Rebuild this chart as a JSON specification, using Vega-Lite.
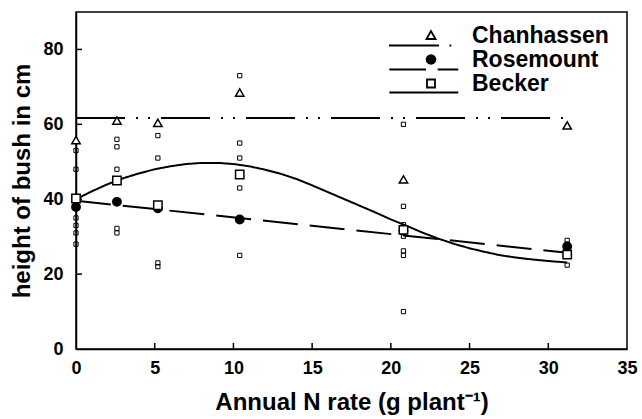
{
  "$schema": "https://vega.github.io/schema/vega-lite/v6.json",
  "width": 551,
  "height": 337,
  "padding": {"left": 10, "top": 12, "right": 2, "bottom": 2},
  "background": "white",
  "config": {
    "view": {"stroke": "black", "strokeWidth": 1.5},
    "font": "Liberation Sans",
    "axis": {
      "domainColor": "black", "domainWidth": 1.5,
      "labelFont": "Liberation Sans", "labelFontWeight": "bold", "labelFontSize": 18, "labelColor": "black",
      "labelFlush": false, "labelOverlap": false,
      "titleFont": "Liberation Sans", "titleFontWeight": "bold", "titleColor": "black", "titleFontSize": 24,
      "grid": false
    },
    "legend": {"rowPadding": 0, "padding": 0}
  },
  "datasets": {
    "fits": [
      {"site": "Chanhassen", "x": 0, "y": 61.7},
      {"site": "Chanhassen", "x": 31.2, "y": 61.7},
      {"site": "Rosemount", "x": 0, "y": 39.6},
      {"site": "Rosemount", "x": 31.2, "y": 25.7},
      {"site": "Becker", "x": 0, "y": 40.0},
      {"site": "Becker", "x": 1, "y": 42.1},
      {"site": "Becker", "x": 2, "y": 44.0},
      {"site": "Becker", "x": 3, "y": 45.6},
      {"site": "Becker", "x": 4, "y": 46.9},
      {"site": "Becker", "x": 5, "y": 48.0},
      {"site": "Becker", "x": 6, "y": 48.8},
      {"site": "Becker", "x": 7, "y": 49.4},
      {"site": "Becker", "x": 8, "y": 49.7},
      {"site": "Becker", "x": 9, "y": 49.7},
      {"site": "Becker", "x": 10, "y": 49.4},
      {"site": "Becker", "x": 11, "y": 48.8},
      {"site": "Becker", "x": 12, "y": 47.9},
      {"site": "Becker", "x": 13, "y": 46.8},
      {"site": "Becker", "x": 14, "y": 45.4},
      {"site": "Becker", "x": 15, "y": 43.7},
      {"site": "Becker", "x": 16, "y": 41.9},
      {"site": "Becker", "x": 17, "y": 40.1},
      {"site": "Becker", "x": 18, "y": 38.3},
      {"site": "Becker", "x": 19, "y": 36.5},
      {"site": "Becker", "x": 20, "y": 34.6},
      {"site": "Becker", "x": 21, "y": 32.9},
      {"site": "Becker", "x": 22, "y": 31.1},
      {"site": "Becker", "x": 23, "y": 29.5},
      {"site": "Becker", "x": 24, "y": 28.1},
      {"site": "Becker", "x": 25, "y": 26.9},
      {"site": "Becker", "x": 26, "y": 25.9},
      {"site": "Becker", "x": 27, "y": 25.0},
      {"site": "Becker", "x": 28, "y": 24.4},
      {"site": "Becker", "x": 29, "y": 23.9},
      {"site": "Becker", "x": 30, "y": 23.5},
      {"site": "Becker", "x": 31.2, "y": 23.1}
    ],
    "obs": [
      {"x": 0, "y": 53}, {"x": 0, "y": 48}, {"x": 0, "y": 35}, {"x": 0, "y": 33}, {"x": 0, "y": 31}, {"x": 0, "y": 28},
      {"x": 2.6, "y": 56}, {"x": 2.6, "y": 54}, {"x": 2.6, "y": 48}, {"x": 2.6, "y": 32.2}, {"x": 2.6, "y": 31},
      {"x": 5.2, "y": 57}, {"x": 5.2, "y": 51}, {"x": 5.2, "y": 23}, {"x": 5.2, "y": 22},
      {"x": 10.4, "y": 73}, {"x": 10.4, "y": 55}, {"x": 10.4, "y": 51}, {"x": 10.4, "y": 43}, {"x": 10.4, "y": 25},
      {"x": 20.8, "y": 60}, {"x": 20.8, "y": 38.1}, {"x": 20.8, "y": 33.2}, {"x": 20.8, "y": 30.1}, {"x": 20.8, "y": 26.2}, {"x": 20.8, "y": 25}, {"x": 20.8, "y": 10},
      {"x": 31.2, "y": 29}, {"x": 31.2, "y": 28}, {"x": 31.2, "y": 22.4}
    ],
    "means": [
      {"site": "Chanhassen", "x": 0, "y": 55.8},
      {"site": "Chanhassen", "x": 2.6, "y": 61},
      {"site": "Chanhassen", "x": 5.2, "y": 60.4},
      {"site": "Chanhassen", "x": 10.4, "y": 68.5},
      {"site": "Chanhassen", "x": 20.8, "y": 45.3},
      {"site": "Chanhassen", "x": 31.2, "y": 59.7},
      {"site": "Rosemount", "x": 0, "y": 37.9},
      {"site": "Rosemount", "x": 2.6, "y": 39.3},
      {"site": "Rosemount", "x": 5.2, "y": 37.6},
      {"site": "Rosemount", "x": 10.4, "y": 34.6},
      {"site": "Rosemount", "x": 20.8, "y": 31.6},
      {"site": "Rosemount", "x": 31.2, "y": 27.4},
      {"site": "Becker", "x": 0, "y": 40.2},
      {"site": "Becker", "x": 2.6, "y": 45},
      {"site": "Becker", "x": 5.2, "y": 38.4},
      {"site": "Becker", "x": 10.4, "y": 46.6},
      {"site": "Becker", "x": 20.8, "y": 31.8},
      {"site": "Becker", "x": 31.2, "y": 25.2}
    ],
    "xticks": [{"v": 5}, {"v": 10}, {"v": 15}, {"v": 20}, {"v": 25}, {"v": 30}],
    "yticks": [{"v": 20}, {"v": 40}, {"v": 60}, {"v": 80}]
  },
  "layer": [
    {
      "data": {"name": "fits"},
      "mark": {"type": "line", "color": "black", "strokeWidth": 2},
      "encoding": {
        "x": {
          "field": "x", "type": "quantitative",
          "scale": {"domain": [0, 35], "nice": false},
          "axis": {"orient": "bottom", "values": [0, 5, 10, 15, 20, 25, 30, 35], "ticks": false, "title": "Annual N rate (g plant⁻¹)", "labelPadding": 10, "titlePadding": 13}
        },
        "y": {
          "field": "y", "type": "quantitative",
          "scale": {"domain": [0, 90], "nice": false},
          "axis": {"orient": "left", "values": [0, 20, 40, 60, 80], "ticks": false, "title": "height of bush in cm", "labelPadding": 13, "titlePadding": 8}
        },
        "strokeDash": {
          "field": "site", "type": "nominal",
          "scale": {"domain": ["Chanhassen", "Rosemount", "Becker"], "range": [[49, 11, 2, 10, 2, 11], [35, 12], [1, 0]]},
          "legend": null
        }
      }
    },
    {
      "data": {"name": "xticks"},
      "mark": {"type": "tick", "orient": "vertical", "color": "black", "size": 6, "thickness": 1.5, "yOffset": -3, "opacity": 1},
      "encoding": {
        "x": {"field": "v", "type": "quantitative", "axis": null},
        "y": {"datum": 0, "type": "quantitative", "axis": null}
      }
    },
    {
      "data": {"name": "yticks"},
      "mark": {"type": "tick", "orient": "horizontal", "color": "black", "size": 6, "thickness": 1.5, "xOffset": 3, "opacity": 1},
      "encoding": {
        "x": {"datum": 0, "type": "quantitative", "axis": null},
        "y": {"field": "v", "type": "quantitative", "axis": null}
      }
    },
    {
      "data": {"name": "obs"},
      "mark": {"type": "point", "shape": "square", "size": 18, "filled": false, "color": "black", "strokeWidth": 1, "opacity": 1},
      "encoding": {
        "x": {"field": "x", "type": "quantitative", "axis": null},
        "y": {"field": "y", "type": "quantitative", "axis": null}
      }
    },
    {
      "data": {"name": "means"},
      "mark": {"type": "point", "filled": true, "stroke": "black", "strokeWidth": 1.5, "size": 70, "opacity": 1},
      "encoding": {
        "x": {"field": "x", "type": "quantitative", "axis": null},
        "y": {"field": "y", "type": "quantitative", "axis": null},
        "shape": {
          "field": "site", "type": "nominal",
          "scale": {"domain": ["Chanhassen", "Rosemount", "Becker"], "range": ["triangle-up", "circle", "square"]},
          "legend": null
        },
        "fill": {
          "field": "site", "type": "nominal",
          "scale": {"domain": ["Chanhassen", "Rosemount", "Becker"], "range": ["white", "black", "white"]},
          "legend": null
        }
      }
    },
    {
      "data": {"name": "means"},
      "transform": [{"filter": "false"}],
      "mark": {"type": "point", "filled": false, "color": "black", "strokeWidth": 1.8, "opacity": 1},
      "encoding": {
        "x": {"field": "x", "type": "quantitative", "axis": null},
        "y": {"field": "y", "type": "quantitative", "axis": null},
        "shape": {
          "field": "site", "type": "nominal",
          "scale": {
            "domain": ["Chanhassen", "Rosemount", "Becker"],
            "range": [
              "M-3.82,0.91L0.73,0.91M1.68,0.91L1.84,0.91M0,-0.41L-0.41,0.32L0.41,0.32Z",
              "M-3.79,0.91L-0.45,0.91M0.61,0.91L2.48,0.91M0.4,0L0.346,0.2L0.2,0.346L0,0.4L-0.2,0.346L-0.346,0.2L-0.4,0L-0.346,-0.2L-0.2,-0.346L0,-0.4L0.2,-0.346L0.346,-0.2ZM0.255,0L0.18,0.18L0,0.255L-0.18,0.18L-0.255,0L-0.18,-0.18L0,-0.255L0.18,-0.18ZM0.109,0L0.055,0.094L-0.055,0.094L-0.109,0L-0.055,-0.094L0.055,-0.094Z",
              "M-3.79,0.82L2.48,0.82M-0.364,-0.364L0.364,-0.364L0.364,0.364L-0.364,0.364Z"
            ]
          },
          "legend": {
            "orient": "none", "legendX": 311, "legendY": 13,
            "title": null,
            "symbolSize": 484,
            "symbolOffset": 32,
            "clipHeight": 21,
            "symbolStrokeColor": "black",
            "symbolStrokeWidth": 1.8,
            "symbolFillColor": "transparent",
            "labelFont": "Liberation Sans", "labelFontSize": 23, "labelFontWeight": "bold", "labelColor": "black",
            "labelOffset": 29,
            "rowPadding": 0,
            "padding": 0
          }
        }
      }
    }
  ],
  "resolve": {"scale": {"shape": "independent"}, "axis": {"x": "independent", "y": "independent"}}
}
